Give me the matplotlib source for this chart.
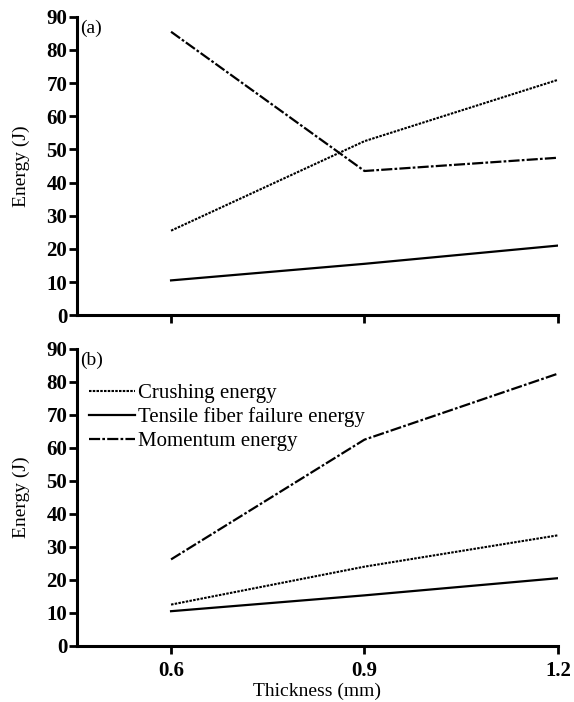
import numpy as np
import matplotlib
matplotlib.use("Agg")
import matplotlib.pyplot as plt

plt.rcParams['font.family'] = ['Liberation Serif', 'DejaVu Serif']

# Data
thickness = [0.6, 0.9, 1.2]
xticks = [0.6, 0.9, 1.2]
yticks = list(range(0, 100, 10))

# (a)
crushA = [25.5, 52.5, 71.0]
tensileA = [10.5, 15.5, 21.0]
momentumA = [85.5, 43.5, 47.5]

# (b)
crushB = [12.5, 24.0, 33.5]
tensileB = [10.5, 15.3, 20.5]
momentumB = [26.2, 62.5, 82.5]

labels = ["Crushing energy", "Tensile fiber failure energy", "Momentum energy"]

fig = plt.figure(figsize=(5.74, 7.02), dpi=100)
axA = fig.add_axes([0.134, 0.551, 0.838, 0.425])
axB = fig.add_axes([0.134, 0.080, 0.838, 0.423])

def style(ax, tag):
    ax.set_xlim(0.454, 1.2)
    ax.set_ylim(0, 90)
    ax.set_xticks(xticks)
    ax.set_yticks(yticks)
    for s in ['top', 'right']:
        ax.spines[s].set_visible(False)
    for s in ['left', 'bottom']:
        ax.spines[s].set_linewidth(2.2)
    ax.tick_params(direction='out', width=2, length=6, labelsize=15)
    ax.tick_params(axis='y', pad=1)
    ax.tick_params(axis='x', pad=5)
    for t in ax.get_yticklabels() + ax.get_xticklabels():
        t.set_fontweight('bold')
    ax.set_ylabel("Energy (J)", fontsize=14, labelpad=12)
    ax.text(0.006, 0.99, tag, transform=ax.transAxes, fontsize=14,
            va='top', ha='left')

for ax, c, t, m, tag in [(axA, crushA, tensileA, momentumA, "(a)"),
                         (axB, crushB, tensileB, momentumB, "(b)")]:
    ax.plot(thickness, c, color='black', lw=1.5, ls=(0, (1.2, 0.6)), label=labels[0])
    ax.plot(thickness, t, color='black', lw=1.6, ls='-', label=labels[1])
    ax.plot(thickness, m, color='black', lw=1.6, ls=(0, (5, 1, 1.2, 1)), label=labels[2])
    style(ax, tag)

axA.set_xticklabels([])
axB.set_xlabel("Thickness (mm)", fontsize=14, labelpad=1)

leg = axB.legend(loc='upper left', bbox_to_anchor=(0.0, 0.925), frameon=False,
                 fontsize=15, handlelength=2.2, handletextpad=0.15,
                 labelspacing=0.2, borderaxespad=0.2)

fig.savefig("out.png", dpi=100)
